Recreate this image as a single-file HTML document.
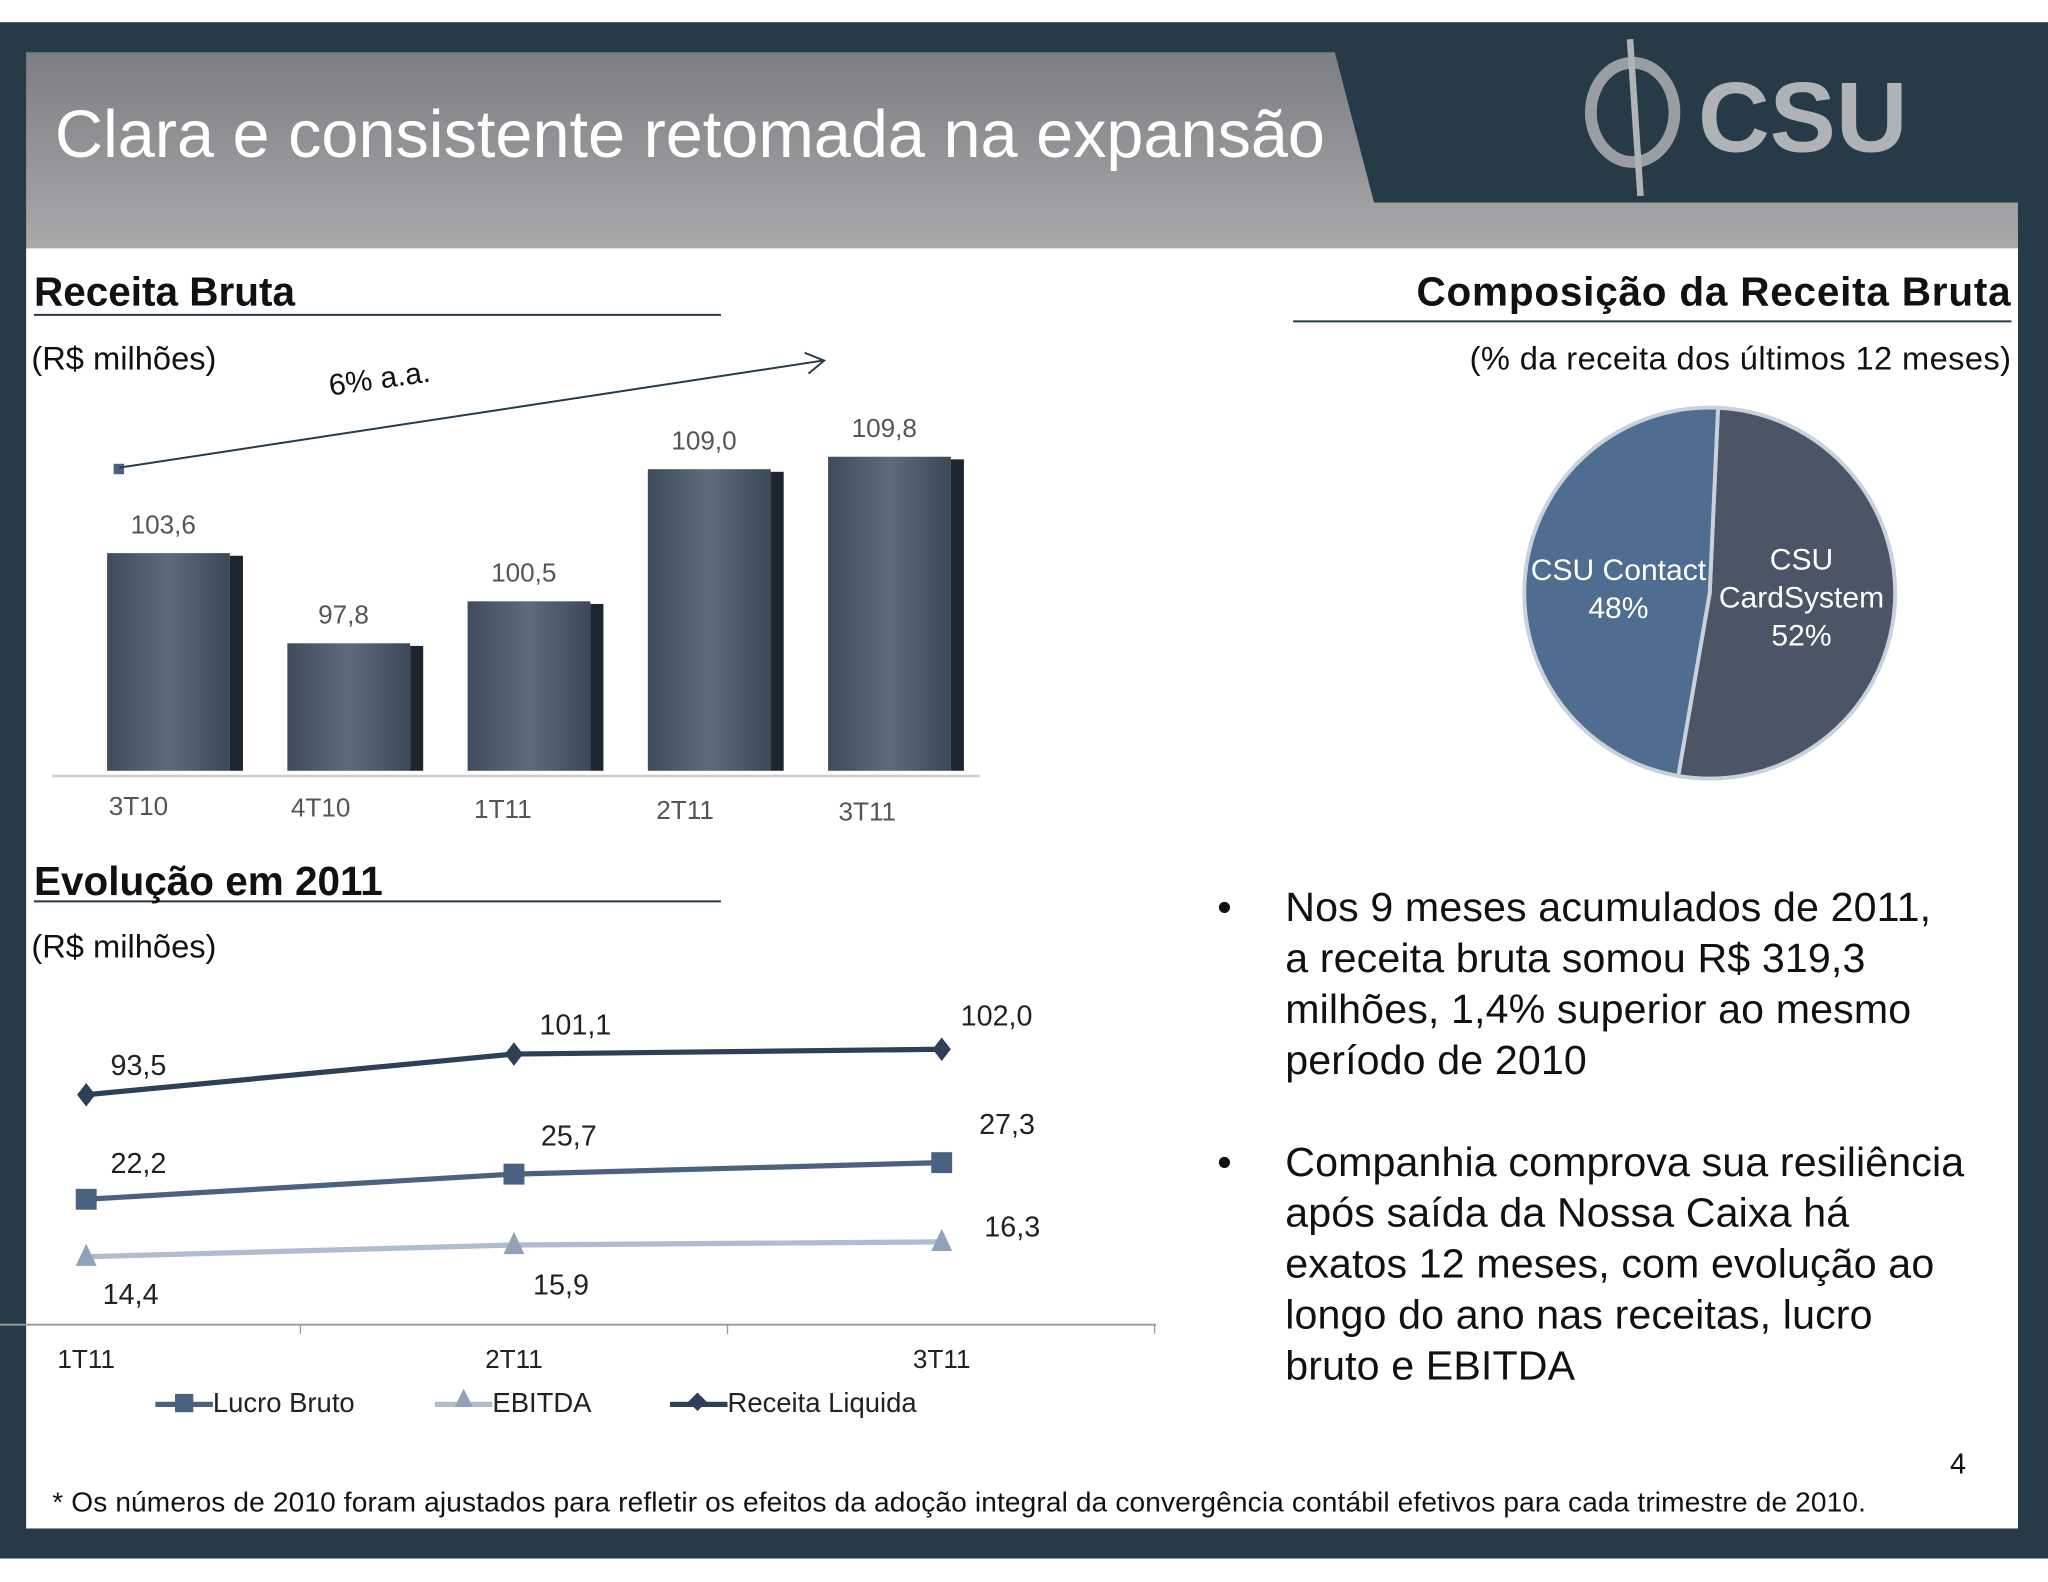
<!DOCTYPE html>
<html><head><meta charset="utf-8"><style>
html,body{margin:0;padding:0;background:#fff;width:2048px;height:1582px;overflow:hidden}
#s{position:absolute;left:0;top:0;width:1568px;height:1211px;transform:scale(1.30612,1.3064);transform-origin:0 0;font-family:"Liberation Sans",sans-serif}
.a{position:absolute;white-space:nowrap}
</style></head><body>
<div id="s">
<svg width="1568" height="1211" style="position:absolute;left:0;top:0">
<defs>
<linearGradient id="hg" x1="0" y1="0" x2="0" y2="1"><stop offset="0" stop-color="#7d7e81"/><stop offset="1" stop-color="#a8a9ab"/></linearGradient>
<linearGradient id="bg" x1="0" y1="0" x2="1" y2="0"><stop offset="0" stop-color="#3e4c5c"/><stop offset="0.5" stop-color="#5d6b7b"/><stop offset="1" stop-color="#3a4858"/></linearGradient>
</defs>
<rect x="0" y="17" width="1568" height="1176" fill="#263a47"/>
<polygon points="20,40 1022,40 1052,155 1545,155 1545,190 20,190" fill="url(#hg)"/>
<rect x="20" y="190" width="1525" height="980" fill="#fff"/>
<g id="bars"></g>
<g id="pie"></g>
<g id="lines"></g>
<line x1="26" y1="241" x2="552" y2="241" stroke="#263a47" stroke-width="1.5"/>
<line x1="26" y1="690" x2="552" y2="690" stroke="#263a47" stroke-width="1.5"/>
<line x1="990" y1="246" x2="1540" y2="246" stroke="#263a47" stroke-width="1.5"/>
<line x1="40" y1="594" x2="750" y2="594" stroke="#ccc" stroke-width="2"/>
<rect x="87" y="355" width="8" height="8" fill="#4a6180"/>
<line x1="91" y1="358" x2="630" y2="276" stroke="#263a47" stroke-width="1.5"/>
<polyline points="616,270 631,276 619,286" fill="none" stroke="#263a47" stroke-width="1.5"/>
<line x1="0" y1="1014" x2="885" y2="1014" stroke="#999" stroke-width="1.5"/>
<line x1="230" y1="1014" x2="230" y2="1021" stroke="#999"/><line x1="557" y1="1014" x2="557" y2="1021" stroke="#999"/><line x1="884" y1="1014" x2="884" y2="1021" stroke="#999"/>
<g><ellipse cx="1250" cy="86" rx="32" ry="38" fill="none" stroke="#9a9ea3" stroke-width="9"/><line x1="1248" y1="30" x2="1256" y2="150" stroke="#b0b3b6" stroke-width="5"/></g>
<text x="1300" y="116" font-family="Liberation Sans" font-weight="bold" font-size="76" fill="#b0b3b6">CSU</text>
</svg>
<div class="a" style="left:42px;top:73px;font-size:51px;color:#fff">Clara e consistente retomada na expansão</div>
<div class="a" style="left:26px;top:206px;font-size:31px;font-weight:bold;color:#111">Receita Bruta</div>
<div class="a" style="left:24px;top:261px;font-size:25px;color:#111">(R$ milhões)</div>
<div class="a" style="left:250px;top:282px;font-size:23px;color:#111;transform:rotate(-8deg);transform-origin:0 0">6% a.a.</div>
<div class="a" style="left:26px;top:657px;font-size:31px;font-weight:bold;color:#111">Evolução em 2011</div>
<div class="a" style="left:24px;top:711px;font-size:25px;color:#111">(R$ milhões)</div>
<div class="a" style="right:28px;top:206px;font-size:31px;font-weight:bold;color:#111;letter-spacing:0.6px">Composição da Receita Bruta</div>
<div class="a" style="right:28px;top:261px;font-size:25px;color:#111;letter-spacing:0.3px">(% da receita dos últimos 12 meses)</div>
<div class="a" style="left:1172px;top:422px;font-size:23px;color:#fff;text-align:center;line-height:29px">CSU Contact<br>48%</div>
<div class="a" style="left:1316px;top:414px;font-size:23px;color:#fff;text-align:center;line-height:29px">CSU<br>CardSystem<br>52%</div>
<div class="a" style="left:932px;top:675px;font-size:31.5px;color:#111;line-height:39px;letter-spacing:0.1px"><span style="position:absolute;left:0">•</span><div style="margin-left:52px">Nos 9 meses acumulados de 2011,<br>a receita bruta somou R$ 319,3<br>milhões, 1,4% superior ao mesmo<br>período de 2010</div></div>
<div class="a" style="left:932px;top:870px;font-size:31.5px;color:#111;line-height:39px;letter-spacing:0.1px"><span style="position:absolute;left:0">•</span><div style="margin-left:52px">Companhia comprova sua resiliência<br>após saída da Nossa Caixa há<br>exatos 12 meses, com evolução ao<br>longo do ano nas receitas, lucro<br>bruto e EBITDA</div></div>
<div class="a" style="left:1493px;top:1108px;font-size:22px;color:#111">4</div>
<div class="a" style="left:40px;top:1138px;font-size:21.5px;color:#111;letter-spacing:0.1px">* Os números de 2010 foram ajustados para refletir os efeitos da adoção integral da convergência contábil efetivos para cada trimestre de 2010.</div>
<div class="a" style="left:119px;top:1063px;font-size:21px;color:#222"><span style="display:inline-block;width:44px;height:4px;background:#4a6180;vertical-align:middle;position:relative"><span style="position:absolute;left:15px;top:-6px;width:14px;height:14px;background:#4a6180"></span></span>Lucro Bruto</div>
<div class="a" style="left:333px;top:1063px;font-size:21px;color:#222"><span style="display:inline-block;width:44px;height:4px;background:#aebdd0;vertical-align:middle;position:relative"><span style="position:absolute;left:15px;top:-10px;width:0;height:0;border-left:7px solid transparent;border-right:7px solid transparent;border-bottom:14px solid #8fa2b8"></span></span>EBITDA</div>
<div class="a" style="left:513px;top:1063px;font-size:21px;color:#222"><span style="display:inline-block;width:44px;height:4px;background:#2d4057;vertical-align:middle;position:relative"><span style="position:absolute;left:16px;top:-5px;width:10px;height:10px;background:#2d4057;transform:rotate(45deg)"></span></span>Receita Liquida</div>
</div>
<script>
const barCats=["3T10","4T10","1T11","2T11","3T11"];
const barVals=[103.6,97.8,100.5,109.0,109.8];
const barLabels=["103,6","97,8","100,5","109,0","109,8"];
const lineCats=["1T11","2T11","3T11"];
const receita=[93.5,101.1,102.0];
const lucro=[22.2,25.7,27.3];
const ebitda=[14.4,15.9,16.3];
const receitaLbl=["93,5","101,1","102,0"];
const lucroLbl=["22,2","25,7","27,3"];
const ebitdaLbl=["14,4","15,9","16,3"];
const pieVals=[48,52];
const NS="http://www.w3.org/2000/svg";
function mk(t,a,p){const e=document.createElementNS(NS,t);for(const k in a)e.setAttribute(k,a[k]);p.appendChild(e);return e;}
function txt(p,x,y,s,fs,fill,anchor){const t=mk("text",{x:x,y:y,"font-family":"Liberation Sans","font-size":fs,fill:fill,"text-anchor":anchor||"middle"},p);t.textContent=s;return t;}
const bx=i=>82+i*138, by=v=>590-(v-89.6)*11.9;
const gb=document.getElementById("bars");
barVals.forEach((v,i)=>{const x=bx(i),y=by(v);
 const r=mk("rect",{x:x,y:y,width:94,height:590-y,fill:"url(#bg)"},gb);
 
 
 mk("rect",{x:x+94,y:y+2,width:10,height:590-y-2,fill:"#1c2530"},gb);
 const l=txt(gb,x+43,y-15,barLabels[i],20,"#555");
 
 
 const c=txt(gb,x+24+i*1.5,624+i*1,barCats[i],20,"#555");
 
 
});
const gp=document.getElementById("pie");
const cx=1309,cy=454,R=142;
let ang=-Math.PI/2+0.045;
[pieVals[1],pieVals[0]].forEach((v,j)=>{const a1=ang+v/100*2*Math.PI;
 const x0=cx+R*Math.cos(ang),y0=cy+R*Math.sin(ang),x1=cx+R*Math.cos(a1),y1=cy+R*Math.sin(a1);
 const p=mk("path",{d:`M${cx},${cy}L${x0},${y0}A${R},${R} 0 ${v>50?1:0} 1 ${x1},${y1}Z`,fill:j==0?"#4b5566":"#4f6d91",stroke:"#c9d2dc","stroke-width":3},gp);
 
 
 ang=a1;});
const gl=document.getElementById("lines");
const lx=i=>66+i*327.5;
const series=[
 {d:receita,l:receitaLbl,y:v=>838-(v-93.5)*4.1,c:"#2d4057",m:"d",n:"receita",lo:[-15,-15,-18],lx:[40,47,42]},
 {d:lucro,l:lucroLbl,y:v=>918-(v-22.2)*5.5,c:"#4a6180",m:"s",n:"lucro",lo:[-20,-22,-22],lx:[40,42,50]},
 {d:ebitda,l:ebitdaLbl,y:v=>962-(v-14.4)*6,c:"#aebdd0",m:"t",n:"ebitda",lo:[36,38,-4],lx:[34,36,54]}];
series.forEach(s=>{
 const pts=s.d.map((v,i)=>lx(i)+","+s.y(v)).join(" ");
 const pl=mk("polyline",{points:pts,fill:"none",stroke:s.c,"stroke-width":4},gl);
 
 
 s.d.forEach((v,i)=>{const x=lx(i),y=s.y(v);let m;
  if(s.m=="d")m=mk("polygon",{points:`${x},${y-9} ${x+7},${y} ${x},${y+9} ${x-7},${y}`,fill:s.c},gl);
  else if(s.m=="s")m=mk("rect",{x:x-8,y:y-8,width:16,height:16,fill:s.c},gl);
  else m=mk("polygon",{points:`${x},${y-10} ${x+8},${y+7} ${x-8},${y+7}`,fill:"#8fa2b8"},gl);
  
  
  const t=txt(gl,x+s.lx[i],y+s.lo[i],s.l[i],22,"#222");
  
  });
});
lineCats.forEach((c,i)=>{const t=txt(gl,lx(i),1047,c,20,"#222");
 
 });
</script>
</body></html>
